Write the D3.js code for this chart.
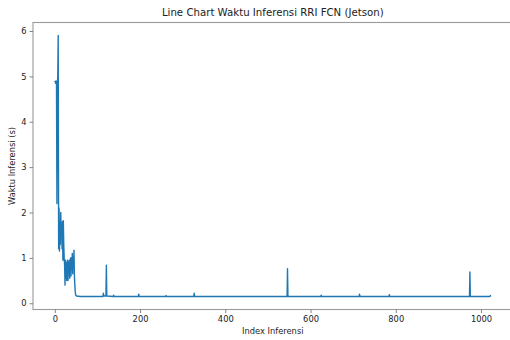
<!DOCTYPE html>
<html>
<head>
  <meta charset="utf-8">
  <title>Line Chart Waktu Inferensi RRI FCN (Jetson)</title>
  <script src="https://d3js.org/d3.v7.min.js"></script>
  <style>
    body { margin: 0; background: #fff; }
    svg text { font-family: "DejaVu Sans", sans-serif; fill: #222; }
  </style>
</head>
<body>
  <svg id="grafik"></svg>

  <script>
    // waktu inferensi (detik) untuk indeks 0..50
    const waktuAwal = [
      4.9, 4.88, 4.85, 4.9, 4.85, 2.2, 4.8, 5.0, 5.9, 1.2,
      2.1, 1.15, 1.8, 1.3, 2.0, 1.5, 1.75, 1.2, 1.8, 0.95,
      1.82, 1.3, 1.0, 0.85, 0.4, 0.95, 0.55, 0.9, 0.5, 0.85,
      0.95, 0.5, 0.9, 0.65, 0.95, 0.55, 0.9, 1.0, 0.6, 1.0,
      0.75, 1.1, 0.65, 1.0, 0.8, 1.17, 0.6, 0.4, 0.25, 0.18, 0.17
    ];

    // sisa data: [indeks, waktu] pada titik yang terlihat berubah
    const titikEkor = [
      [51, 0.16], [60, 0.15], [113, 0.15], [114, 0.22], [115, 0.16],
      [120, 0.16], [121, 0.84], [122, 0.16], [137, 0.15], [138, 0.18],
      [139, 0.15], [196, 0.15], [197, 0.2], [198, 0.15], [260, 0.15],
      [261, 0.17], [262, 0.15], [326, 0.15], [327, 0.22], [328, 0.15],
      [545, 0.15], [546, 0.76], [547, 0.15], [624, 0.15], [625, 0.18],
      [626, 0.15], [714, 0.15], [715, 0.2], [716, 0.15], [784, 0.15],
      [785, 0.19], [786, 0.15], [973, 0.15], [974, 0.69], [975, 0.15],
      [1021, 0.15], [1022, 0.17], [1023, 0.15]
    ];

    const tickX = [0, 200, 400, 600, 800, 1000];
    const tickY = [0, 1, 2, 3, 4, 5, 6];

    const data = waktuAwal.map((v, i) => [i, v]).concat(titikEkor);

    const lebar = 510, tinggi = 340;
    const kiri = 33, atas = 22.5, lebarPlot = 479.6, tinggiPlot = 287;

    const svg = d3.select("#grafik")
      .attr("width", lebar)
      .attr("height", tinggi);

    const xMin = d3.min(data, d => d[0]), xMax = d3.max(data, d => d[0]);
    const yMin = d3.min(data, d => d[1]), yMax = d3.max(data, d => d[1]);
    const mx = (xMax - xMin) * 0.05, my = (yMax - yMin) * 0.05;

    const x = d3.scaleLinear()
      .domain([xMin - mx, xMax + mx])
      .range([kiri, kiri + lebarPlot]);

    const y = d3.scaleLinear()
      .domain([yMin - my, yMax + my])
      .range([atas + tinggiPlot, atas]);

    const garis = d3.line()
      .x(d => x(d[0]))
      .y(d => y(d[1]));

    svg.append("path")
      .datum(data)
      .attr("d", garis)
      .attr("fill", "none")
      .attr("stroke", "#1f77b4")
      .attr("stroke-width", 1.4)
      .attr("stroke-linejoin", "round");

    // bingkai
    svg.append("rect")
      .attr("x", kiri)
      .attr("y", atas)
      .attr("width", lebarPlot)
      .attr("height", tinggiPlot)
      .attr("fill", "none")
      .attr("stroke", "#9a9a9a")
      .attr("stroke-width", 1.1);

    const sumbuX = svg.append("g")
      .attr("transform", `translate(0,${atas + tinggiPlot})`)
      .call(d3.axisBottom(x).tickValues(tickX).tickSize(3.5).tickPadding(3).tickFormat(d3.format("d")));

    const sumbuY = svg.append("g")
      .attr("transform", `translate(${kiri},0)`)
      .call(d3.axisLeft(y).tickValues(tickY).tickSize(3.5).tickPadding(3).tickFormat(d3.format("d")));

    [sumbuX, sumbuY].forEach(g => {
      g.select(".domain").remove();
      g.selectAll(".tick line").attr("stroke", "#777").attr("stroke-width", 0.9);
      g.selectAll(".tick text").style("font-size", "8.3px").attr("fill", "#222");
    });

    svg.append("text")
      .attr("x", kiri + lebarPlot / 2)
      .attr("y", 16)
      .attr("text-anchor", "middle")
      .style("font-size", "10.2px")
      .text("Line Chart Waktu Inferensi RRI FCN (Jetson)");

    svg.append("text")
      .attr("x", kiri + lebarPlot / 2)
      .attr("y", 334)
      .attr("text-anchor", "middle")
      .style("font-size", "8.3px")
      .text("Index Inferensi");

    svg.append("text")
      .attr("transform", `translate(15,${atas + tinggiPlot / 2}) rotate(-90)`)
      .attr("text-anchor", "middle")
      .style("font-size", "8.3px")
      .text("Waktu Inferensi (s)");
  </script>
</body>
</html>
